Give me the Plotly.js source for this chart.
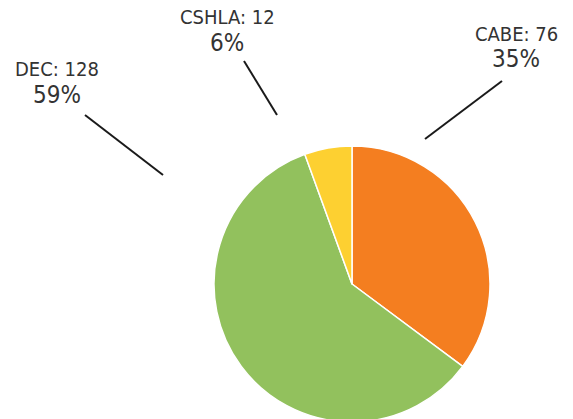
<!DOCTYPE html>
<html>
<head>
<meta charset="utf-8">
<script src="https://cdn.plot.ly/plotly-3.0.1.min.js"></script>
<style>
html,body{margin:0;padding:0;overflow:hidden;background:#fff;}
#chart{width:573px;height:430px;}
</style>
</head>
<body>
<div id="chart"></div>
<script>
// Data
var categories = ['CABE', 'DEC', 'CSHLA'];
var values = [76, 128, 12];
var sliceColors = ['#F47E20', '#92C15D', '#FDD031'];

// Layout helpers (pixel -> paper), canvas taller than the window so the pie bottom is clipped
var W = 573, H = 430;
function px(x){ return x / W; }
function py(y){ return (H - y) / H; }

var total = values.reduce(function(a,b){return a+b;}, 0);

// Label placement (pixels): name line baseline, pct line baseline, leader line endpoints
var labelPos = {
  'CABE':  {cx: 516, nameBase: 43,  pctBase: 69,  line: [502, 81, 425, 139]},
  'DEC':   {cx: 57,  nameBase: 78,  pctBase: 105, line: [85, 115, 163, 175]},
  'CSHLA': {cx: 227, nameBase: 26,  pctBase: 53,  line: [244, 61, 277, 115]}
};

var font = 'DejaVu Sans Condensed, DejaVu Sans, sans-serif';
var annotations = [], shapes = [];
categories.forEach(function(c, i){
  var p = labelPos[c];
  annotations.push({
    xref:'paper', yref:'paper', x:px(p.cx), y:py(p.nameBase + 4),
    xanchor:'center', yanchor:'bottom', showarrow:false,
    text: c + ': ' + values[i],
    font:{family:font, size:20, color:'#333333'}, borderpad:0
  });
  annotations.push({
    xref:'paper', yref:'paper', x:px(p.cx), y:py(p.pctBase + 5),
    xanchor:'center', yanchor:'bottom', showarrow:false,
    text: Math.round(values[i] / total * 100) + '%',
    font:{family:font, size:24, color:'#333333'}, borderpad:0
  });
  shapes.push({
    type:'line', xref:'paper', yref:'paper',
    x0:px(p.line[0]), y0:py(p.line[1]), x1:px(p.line[2]), y1:py(p.line[3]),
    line:{color:'#1a1a1a', width:2}
  });
});

var trace = {
  type:'pie',
  labels: categories,
  values: values,
  sort:false,
  direction:'clockwise',
  rotation:0,
  marker:{colors:sliceColors, line:{color:'#ffffff', width:1.5}},
  textinfo:'none',
  hoverinfo:'label+value+percent',
  showlegend:false,
  domain:{x:[px(214), px(490)], y:[py(422), py(146)]}
};

var layout = {
  width:W, height:H,
  margin:{l:0, r:0, t:0, b:0},
  paper_bgcolor:'#ffffff',
  plot_bgcolor:'#ffffff',
  showlegend:false,
  annotations:annotations,
  shapes:shapes
};

Plotly.newPlot('chart', [trace], layout, {staticPlot:true, displayModeBar:false});
</script>
</body>
</html>
